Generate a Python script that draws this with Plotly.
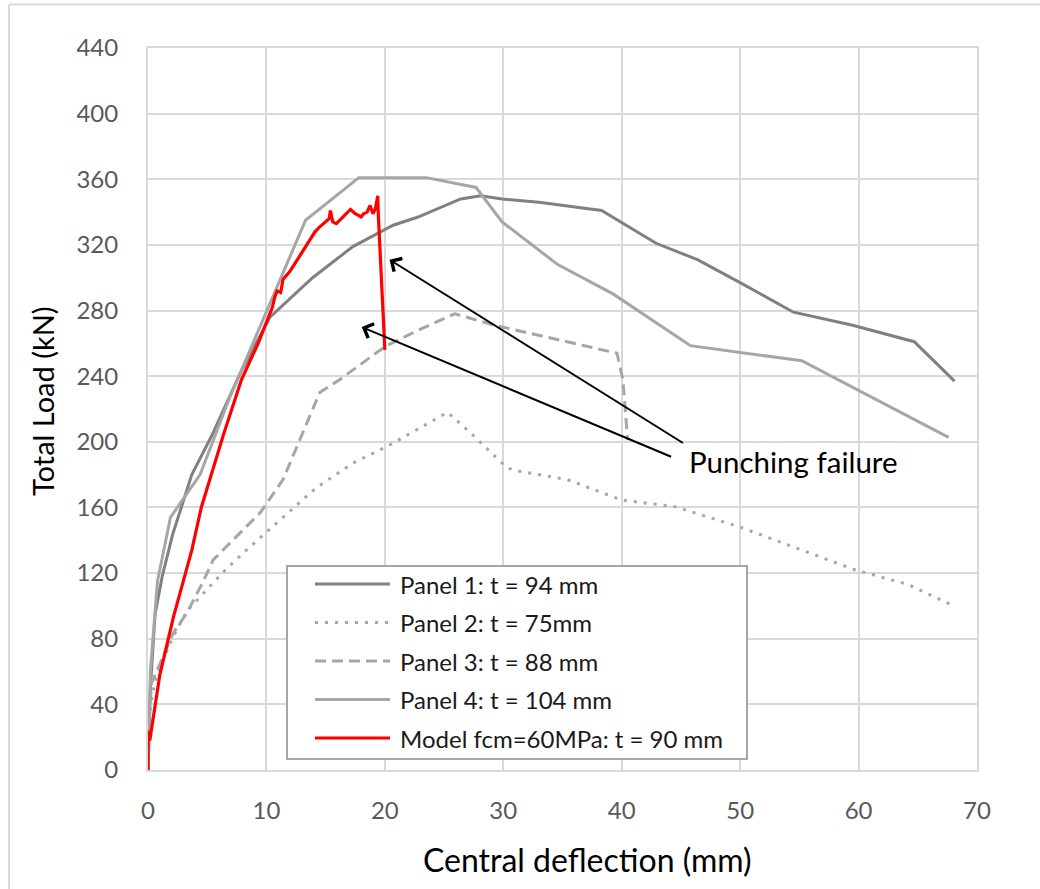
import plotly.graph_objects as go

# ---------------- data ----------------
p1_x = [0, 0.2, 0.6, 1.2, 2.1, 3.7, 5.4, 7.8, 10.3, 13.9, 17.3, 20.7, 22.8, 26.4, 28.1, 29.9,
        33.0, 38.3, 42.9, 46.4, 50.5, 54.5, 59.5, 64.7, 68.1]
p1_y = [0, 50, 95, 118, 144, 180, 204, 242, 276, 300, 319, 332, 337, 348, 350, 348,
        346, 341, 321, 311, 295, 279, 271, 261, 237]

p2_x = [0, 0.2, 0.7, 2.1, 3.3, 5.0, 6.4, 8.3, 11.1, 14.2, 17.3, 20.4, 25.3, 27.3, 29.9, 30.7,
        35.4, 40.0, 44.5, 50.0, 59.7, 64.2, 68.2]
p2_y = [0, 40, 57, 81, 97, 110, 121, 134, 152, 172, 187, 198, 218, 205, 187, 183,
        177, 164.5, 160.5, 148, 122, 113, 99.5]

p3_x = [0, 0.1, 0.3, 2.1, 3.3, 4.6, 5.5, 9.5, 11.4, 12.8, 14.5, 16.2, 20.0, 22.8, 25.9, 29.3,
        39.6, 40.1, 40.4, 40.5]
p3_y = [0, 30, 53, 83, 96, 114, 128, 157, 177, 201, 230, 238, 258, 268, 278, 271,
        254, 238, 209, 201]

p4_x = [0, 0.2, 0.8, 1.9, 4.4, 6.9, 10.9, 13.3, 17.8, 23.5, 27.7, 29.9, 34.6, 39.3, 45.8, 55.2, 67.6]
p4_y = [0, 60, 115, 154, 180, 227, 294.5, 335, 361, 361, 355, 334, 308, 290, 258.6, 249.4, 202.7]

model_x = [0, 0.02, 0.15, 0.4, 1.0, 2.14, 3.7, 4.5, 6.4, 7.9, 8.6, 9.3, 9.9, 10.5, 10.7, 10.9,
           11.2, 11.4, 12.0, 12.6, 13.2, 13.7, 14.1, 14.5, 15.0, 15.3, 15.4, 15.6, 15.9, 16.2,
           16.6, 17.1, 17.5, 17.8, 18.0, 18.2, 18.5, 18.75, 19.0, 19.2, 19.4, 19.45, 20.0]
model_y = [0, 24, 18, 30, 58, 93, 134, 160, 205, 238, 249, 260, 271, 282, 288, 292,
           291, 299, 304, 311, 318, 324, 328, 331, 334, 336, 341, 334, 333, 335,
           338, 341.6, 339, 338, 337, 339, 340, 344, 339, 342, 350, 338, 256]

series_names = ["Panel 1: t = 94 mm", "Panel 2: t = 75mm", "Panel 3: t = 88 mm",
                "Panel 4: t = 104 mm", "Model fcm=60MPa: t = 90 mm"]

x_ticks = [0, 10, 20, 30, 40, 50, 60, 70]
y_ticks = [0, 40, 80, 120, 160, 200, 240, 280, 320, 360, 400, 440]

annotation_text = "Punching failure"
arrow_heads = [(20.4, 311), (18.05, 270)]
arrow_tails = [(45.3, 198.7), (44.3, 190.5)]

# ---------------- styling / layout ----------------
FONT = "Lato"
W, H = 1040, 889
L, R, T, B = 148, 977, 48, 770   # plot area pixels


def px_x(px):
    return (px - L) / (R - L)


def px_y(py):
    return (B - py) / (B - T)


styles = [
    dict(color="#808080", width=3, dash="solid"),
    dict(color="#a6a6a6", width=3, dash="3px,7px"),
    dict(color="#a6a6a6", width=3, dash="11px,6px"),
    dict(color="#a6a6a6", width=3, dash="solid"),
    dict(color="#ff0000", width=3.2, dash="solid"),
]
xs = [p1_x, p2_x, p3_x, p4_x, model_x]
ys = [p1_y, p2_y, p3_y, p4_y, model_y]

fig = go.Figure()
for name, x, y, st in zip(series_names, xs, ys, styles):
    fig.add_trace(go.Scatter(x=x, y=y, mode="lines", name=name, showlegend=False,
                             line=dict(color=st["color"], width=st["width"], dash=st["dash"])))

shapes = []
annotations = []

# outer frame (top and left edges)
shapes.append(dict(type="line", xref="paper", yref="paper", x0=px_x(9), x1=px_x(1045),
                   y0=px_y(4.5), y1=px_y(4.5), line=dict(color="#d9d9d9", width=2)))
shapes.append(dict(type="line", xref="paper", yref="paper", x0=px_x(9), x1=px_x(9),
                   y0=px_y(4.5), y1=px_y(895), line=dict(color="#d9d9d9", width=2)))

# manual legend
shapes.append(dict(type="rect", xref="paper", yref="paper", x0=px_x(287), x1=px_x(747),
                   y0=px_y(759), y1=px_y(566), fillcolor="white",
                   line=dict(color="#a6a6a6", width=2), layer="above"))
row_y = [584, 622.5, 661, 699.5, 738]
for name, st, ry in zip(series_names, styles, row_y):
    shapes.append(dict(type="line", xref="paper", yref="paper", x0=px_x(315), x1=px_x(390),
                       y0=px_y(ry), y1=px_y(ry), layer="above",
                       line=dict(color=st["color"], width=st["width"], dash=st["dash"])))
    annotations.append(dict(xref="paper", yref="paper", x=px_x(398), y=px_y(ry),
                            text=name, showarrow=False, xanchor="left", yanchor="middle",
                            font=dict(family=FONT, size=24, color="#1a1a1a")))

# arrows
for (hx, hy), (tx, ty) in zip(arrow_heads, arrow_tails):
    annotations.append(dict(x=hx, y=hy, ax=tx, ay=ty, xref="x", yref="y", axref="x", ayref="y",
                            text="", showarrow=True, arrowhead=4, arrowsize=1.5, arrowwidth=2,
                            arrowcolor="#000000", standoff=0, startstandoff=0))
annotations.append(dict(x=45.5, y=188.3, xref="x", yref="y", text=annotation_text,
                        showarrow=False, xanchor="left", yanchor="middle",
                        font=dict(family=FONT, size=29.5, color="#000000")))

# axis titles
annotations.append(dict(xref="paper", yref="paper", x=px_x(587), y=px_y(860),
                        text="Central deflection (mm)", showarrow=False,
                        xanchor="center", yanchor="middle",
                        font=dict(family=FONT, size=32, color="#000000")))
annotations.append(dict(xref="paper", yref="paper", x=px_x(42), y=px_y(401),
                        text="Total Load (kN)", showarrow=False, textangle=-90,
                        xanchor="center", yanchor="middle",
                        font=dict(family=FONT, size=29, color="#000000")))

axis_common = dict(showgrid=True, gridcolor="#d9d9d9", gridwidth=2, zeroline=False,
                   showline=True, linecolor="#d9d9d9", linewidth=2, mirror=True,
                   ticks="", tickfont=dict(family=FONT, size=24, color="#595959"))

fig.update_layout(
    width=W, height=H,
    margin=dict(l=L, r=W - R, t=T, b=H - B),
    paper_bgcolor="white", plot_bgcolor="white",
    showlegend=False,
    xaxis=dict(range=[0, 70], tickvals=x_ticks, ticklabelstandoff=18, **axis_common),
    yaxis=dict(range=[0, 440], tickvals=y_ticks, ticklabelstandoff=23, **axis_common),
    shapes=shapes, annotations=annotations,
)

fig.write_html("out.html", config={"displayModeBar": False},
               post_script="document.body.style.margin='0';")
